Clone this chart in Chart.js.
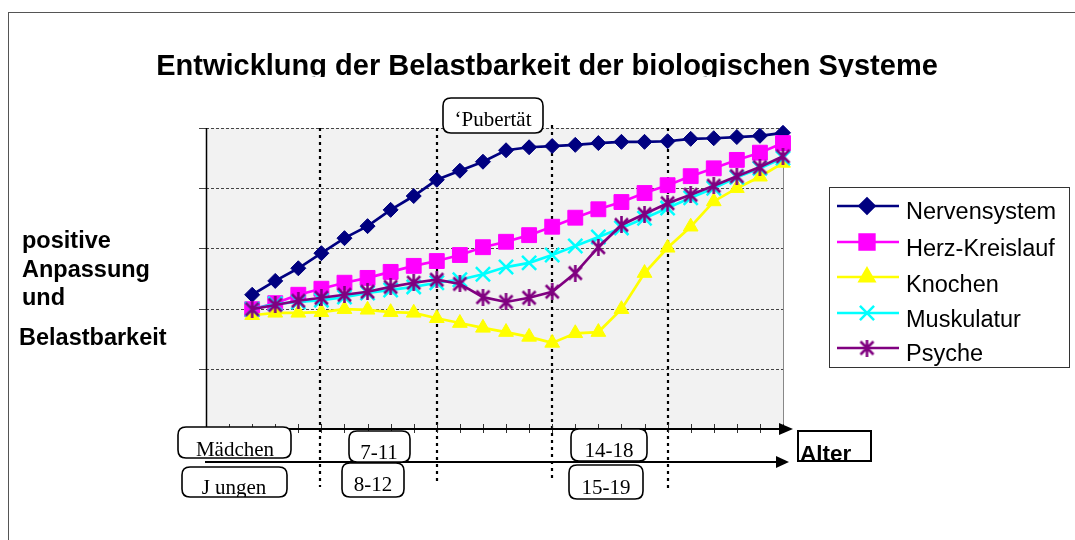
<!DOCTYPE html>
<html><head><meta charset="utf-8">
<script src="https://cdn.jsdelivr.net/npm/chart.js@4/dist/chart.umd.min.js"></script>
<style>html,body{margin:0;padding:0;background:#fff;}#wrap{width:1075px;height:540px;}</style>
</head><body><div id="wrap"><canvas id="c" width="1075" height="540"></canvas></div>
<script>
// ---- data ----
const categories = ['0','1','2','3','4','5','6','7','8','9','10','11','12','13','14','15','16','17','18','19','20','21','22','23','24','25'];
const seriesNames = ['Nervensystem','Herz-Kreislauf','Knochen','Muskulatur','Psyche'];
const nervensystem = [null,null,2.23,2.46,2.67,2.92,3.17,3.37,3.64,3.87,4.14,4.29,4.44,4.63,4.68,4.70,4.72,4.75,4.77,4.77,4.78,4.82,4.83,4.85,4.87,4.92];
const herzKreislauf = [null,null,1.99,2.09,2.23,2.33,2.43,2.51,2.61,2.71,2.79,2.89,3.02,3.11,3.22,3.36,3.51,3.65,3.77,3.92,4.05,4.20,4.33,4.47,4.59,4.75];
const knochen = [null,null,1.89,1.93,1.93,1.94,1.99,1.98,1.94,1.93,1.84,1.76,1.68,1.61,1.53,1.43,1.59,1.61,1.99,2.59,3.01,3.36,3.78,4.00,4.19,4.42];
const muskulatur = [null,null,1.99,2.08,2.11,2.14,2.19,2.26,2.31,2.36,2.43,2.48,2.57,2.69,2.76,2.89,3.04,3.19,3.34,3.50,3.67,3.84,4.00,4.18,4.33,4.50];
const psyche = [null,null,1.99,2.06,2.13,2.18,2.23,2.28,2.36,2.43,2.48,2.41,2.19,2.11,2.18,2.28,2.59,3.02,3.39,3.57,3.75,3.89,4.04,4.20,4.35,4.53];
const yTicks = [0,1,2,3,4,5];
const phaseLines = [4.95, 10, 15, 20];
const girlsLabels = ['Mädchen','7-11','14-18'];
const boysLabels = ['J ungen','8-12','15-19'];

// ---- styles ----
const colors = ['#000080','#FF00FF','#FFFF00','#00FFFF','#800080'];
function asterisk(color){
  const c = document.createElement('canvas'); c.width = 17; c.height = 17;
  const g = c.getContext('2d'); g.strokeStyle = color; g.lineWidth = 2.6; g.lineCap='butt';
  g.beginPath();
  g.moveTo(2,2); g.lineTo(15,15);
  g.moveTo(15,2); g.lineTo(2,15);
  g.moveTo(8.5,0); g.lineTo(8.5,17);
  g.stroke(); return c;
}
const psycheStar = asterisk('#800080');
const markerStyles = [
  {pointStyle:'rectRot', radius:7.5, borderWidth:1},
  {pointStyle:'rect', radius:10.5, borderWidth:1},
  {pointStyle:'triangle', radius:8.5, borderWidth:1},
  {pointStyle:'crossRot', radius:10, borderWidth:2.5},
  {pointStyle:psycheStar, radius:8, borderWidth:0}
];
const seriesData = [nervensystem, herzKreislauf, knochen, muskulatur, psyche];

const datasets = seriesData.map((d,i)=>({
  label: seriesNames[i], data: d,
  borderColor: colors[i], backgroundColor: colors[i],
  pointBackgroundColor: colors[i], pointBorderColor: colors[i],
  borderWidth: 2.7, tension: 0,
  pointStyle: markerStyles[i].pointStyle, pointRadius: markerStyles[i].radius,
  pointBorderWidth: markerStyles[i].borderWidth, pointHoverRadius: markerStyles[i].radius,
  order: 5 - i, clip: false, spanGaps: false
}));

function roundBox(ctx, x1, y1, x2, y2, r){
  ctx.beginPath();
  ctx.moveTo(x1+r,y1); ctx.lineTo(x2-r,y1); ctx.quadraticCurveTo(x2,y1,x2,y1+r);
  ctx.lineTo(x2,y2-r); ctx.quadraticCurveTo(x2,y2,x2-r,y2);
  ctx.lineTo(x1+r,y2); ctx.quadraticCurveTo(x1,y2,x1,y2-r);
  ctx.lineTo(x1,y1+r); ctx.quadraticCurveTo(x1,y1,x1+r,y1); ctx.closePath();
}
function labelBox(ctx, text, x1, y1, x2, y2, cx, base){
  ctx.save();
  roundBox(ctx, x1, y1, x2, y2, 8);
  ctx.fillStyle = '#fff'; ctx.fill();
  ctx.save(); ctx.clip();
  ctx.fillStyle = '#000'; ctx.font = '21px "Liberation Serif", "Times New Roman", serif';
  ctx.textAlign = 'center'; ctx.textBaseline = 'alphabetic';
  ctx.fillText(text, cx, base);
  ctx.restore();
  roundBox(ctx, x1, y1, x2, y2, 8);
  ctx.lineWidth = 1.6; ctx.strokeStyle = '#000'; ctx.stroke();
  ctx.restore();
}

const decor = {
  id: 'decor',
  beforeDraw(chart){
    const {ctx, chartArea:a, scales:{x,y}} = chart;
    ctx.save();
    ctx.fillStyle = '#fff'; ctx.fillRect(0,0,chart.width,chart.height);
    ctx.strokeStyle = '#555'; ctx.lineWidth = 1;
    ctx.strokeRect(8.5, 12.5, 1100, 600);
    ctx.fillStyle = '#f2f2f2'; ctx.fillRect(a.left, a.top, a.right-a.left, a.bottom-a.top);
    // grid lines
    ctx.strokeStyle = '#444'; ctx.lineWidth = 1; ctx.setLineDash([3,2]);
    yTicks.forEach(v=>{ if(v===0) return; const py = Math.round(y.getPixelForValue(v))+0.5;
      ctx.beginPath(); ctx.moveTo(a.left, py); ctx.lineTo(a.right, py); ctx.stroke(); });
    ctx.setLineDash([]);
    yTicks.forEach(v=>{ const py = Math.round(y.getPixelForValue(v))+0.5;
      ctx.beginPath(); ctx.moveTo(a.left-7, py); ctx.lineTo(a.left, py); ctx.stroke(); });
    // right border
    ctx.strokeStyle = '#888';
    ctx.beginPath(); ctx.moveTo(a.right+0.5, a.top); ctx.lineTo(a.right+0.5, a.bottom); ctx.stroke();
    ctx.restore();
  },
  beforeDatasetsDraw(chart){
    const {ctx, chartArea:a, scales:{x}} = chart;
    ctx.save();
    ctx.strokeStyle = '#000'; ctx.lineWidth = 2.2; ctx.setLineDash([3,4]);
    const ends = [[a.top, 487],[a.top, 485],[a.top-3, 481],[a.top, 488]];
    phaseLines.forEach((v,i)=>{ const px = Math.round(x.getPixelForValue(v));
      ctx.beginPath(); ctx.moveTo(px, ends[i][0]); ctx.lineTo(px, ends[i][1]); ctx.stroke(); });
    ctx.restore();
  },
  afterDraw(chart){
    const {ctx, chartArea:a, scales:{x,y}} = chart;
    ctx.save();
    // y axis
    ctx.strokeStyle = '#000'; ctx.lineWidth = 1.5;
    ctx.beginPath(); ctx.moveTo(a.left+0.5, a.top); ctx.lineTo(a.left+0.5, a.bottom); ctx.stroke();
    // x ticks
    ctx.strokeStyle = '#333'; ctx.lineWidth = 1;
    categories.forEach((c,i)=>{ if(i===0) return; const px = Math.round(x.getPixelForValue(i))+0.5;
      ctx.beginPath(); ctx.moveTo(px, a.bottom-5); ctx.lineTo(px, a.bottom+4); ctx.stroke(); });
    // x axis with arrow
    ctx.strokeStyle = '#000'; ctx.lineWidth = 2.2;
    ctx.beginPath(); ctx.moveTo(a.left, a.bottom); ctx.lineTo(a.right, a.bottom); ctx.stroke();
    ctx.fillStyle = '#000';
    ctx.beginPath(); ctx.moveTo(a.right-4, a.bottom-6); ctx.lineTo(a.right+10, a.bottom); ctx.lineTo(a.right-4, a.bottom+6); ctx.closePath(); ctx.fill();
    // second arrow
    const ay = 462;
    ctx.beginPath(); ctx.moveTo(a.left-1, ay); ctx.lineTo(a.right-6, ay); ctx.stroke();
    ctx.beginPath(); ctx.moveTo(a.right-7, ay-6); ctx.lineTo(a.right+6, ay); ctx.lineTo(a.right-7, ay+6); ctx.closePath(); ctx.fill();
    // label boxes
    labelBox(ctx, girlsLabels[0], 178, 427, 291, 458, 235, 456);
    labelBox(ctx, girlsLabels[1], 349, 431, 410, 462, 379, 459);
    labelBox(ctx, girlsLabels[2], 571, 429, 647, 461, 609, 457);
    labelBox(ctx, boysLabels[0], 182, 467, 287, 497, 234, 494);
    labelBox(ctx, boysLabels[1], 342, 463, 404, 497, 373, 491);
    labelBox(ctx, boysLabels[2], 569, 465, 643, 499, 606, 494);
    labelBox(ctx, '\u2018Pubertät', 443, 98, 543, 133, 493, 126);
    // Alter box
    ctx.save();
    ctx.beginPath(); ctx.rect(798, 431, 73, 30); ctx.fillStyle='#fff'; ctx.fill(); ctx.clip();
    ctx.fillStyle = '#000'; ctx.font = 'bold 22.5px "Liberation Sans", Arial, sans-serif';
    ctx.textAlign = 'left'; ctx.fillText('Alter', 800, 461);
    ctx.restore();
    ctx.strokeStyle = '#000'; ctx.lineWidth = 2; ctx.strokeRect(798, 431, 73, 30);
    // y-axis description
    ctx.fillStyle = '#000'; ctx.font = 'bold 23.5px "Liberation Sans", Arial, sans-serif';
    ctx.textAlign = 'left';
    ctx.fillText('positive', 22, 248);
    ctx.fillText('Anpassung', 22, 277);
    ctx.fillText('und', 22, 305);
    ctx.fillText('Belastbarkeit', 19, 345);
    // title (clipped at bottom like the original)
    ctx.save();
    ctx.beginPath(); ctx.rect(0, 0, chart.width, 77); ctx.clip();
    ctx.font = 'bold 29px "Liberation Sans", Arial, sans-serif'; ctx.textAlign = 'center';
    ctx.fillText('Entwicklung der Belastbarkeit der biologischen Systeme', 547, 75);
    ctx.restore();
    // legend
    ctx.fillStyle = '#fff'; ctx.fillRect(829, 187, 240, 180);
    ctx.strokeStyle = '#333'; ctx.lineWidth = 1; ctx.strokeRect(829.5, 187.5, 240, 180);
    const rows = [206, 242, 277, 313, 348];
    const bases = [219, 256, 292, 327, 361];
    seriesNames.forEach((n,i)=>{
      ctx.strokeStyle = colors[i]; ctx.lineWidth = 2.5;
      ctx.beginPath(); ctx.moveTo(837, rows[i]); ctx.lineTo(899, rows[i]); ctx.stroke();
      ctx.fillStyle = colors[i]; ctx.strokeStyle = colors[i];
      Chart.helpers.drawPoint(ctx, {pointStyle: markerStyles[i].pointStyle, radius: markerStyles[i].radius, rotation: 0, borderWidth: markerStyles[i].borderWidth}, 867, rows[i]);
      ctx.fillStyle = '#000'; ctx.font = '23.5px "Liberation Sans", Arial, sans-serif'; ctx.textAlign='left';
      ctx.fillText(n, 906, bases[i]);
    });
    ctx.restore();
  }
};

new Chart(document.getElementById('c'), {
  type: 'line',
  data: { labels: categories, datasets },
  options: {
    responsive: false, animation: false, devicePixelRatio: 1,
    layout: { padding: { left: 206, right: 292, top: 128, bottom: 111 } },
    plugins: { legend: { display: false }, tooltip: { enabled: false }, title: { display: false } },
    scales: {
      x: { type: 'category', display: false, offset: false },
      y: { display: false, min: 0, max: 5 }
    }
  },
  plugins: [decor]
});
</script></body></html>
